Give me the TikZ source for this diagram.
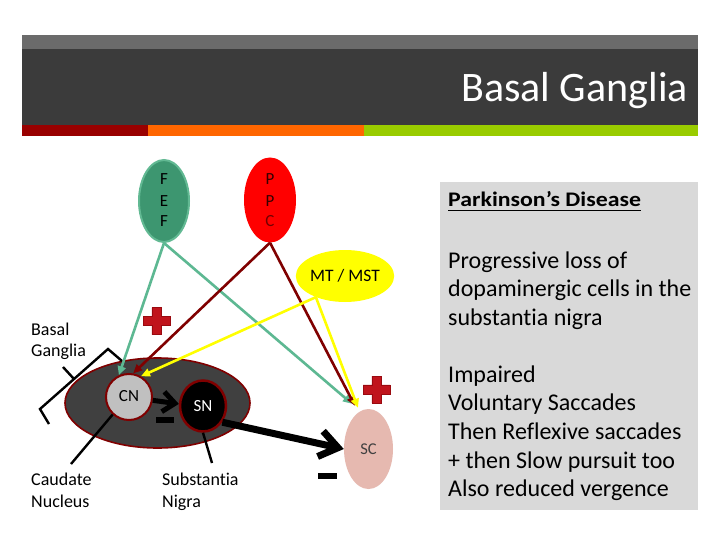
\documentclass[tikz,border=0pt]{standalone}
\usepackage{fontspec}
\setmainfont{Carlito}[Ligatures=NoCommon]
\newfontfamily\headfont[FakeStretch=1.15,Ligatures=NoCommon]{Carlito}
\usetikzlibrary{arrows.meta,shapes.geometric}
\definecolor{bargrey}{HTML}{6B6B6B}
\definecolor{bardark}{HTML}{3B3B3B}
\definecolor{stripred}{HTML}{990000}
\definecolor{stripor}{HTML}{FF6600}
\definecolor{stripgreen}{HTML}{99CC00}
\definecolor{fefgreen}{HTML}{3D9670}
\definecolor{fefedge}{HTML}{62B993}
\definecolor{ppcred}{HTML}{FF0000}
\definecolor{mtyellow}{HTML}{FFFF00}
\definecolor{bgdark}{HTML}{404040}
\definecolor{edgered}{HTML}{800000}
\definecolor{cngrey}{HTML}{C0C0C0}
\definecolor{scpink}{HTML}{E6B9B0}
\definecolor{boxgrey}{HTML}{D9D9D9}
\definecolor{tealline}{HTML}{5DB892}
\definecolor{darkline}{HTML}{800000}
\definecolor{plusred}{HTML}{C0141C}
\definecolor{plusdark}{HTML}{9A0A10}
\definecolor{sctext}{HTML}{404040}
\tikzset{
  txt/.style={inner sep=0pt, anchor=base west},
  bodytxt/.style={txt, font=\fontsize{24}{28.7}\selectfont},
  smalltxt/.style={txt, font=\fontsize{18}{21}\selectfont},
  letter/.style={inner sep=0pt, anchor=base, font=\fontsize{17}{18}\selectfont},
  conn/.style={line width=2.6pt, -{Triangle[length=9pt,width=8pt]}},
  tealconn/.style={conn, draw=tealline},
  redconn/.style={conn, draw=darkline},
  yelconn/.style={conn, draw=mtyellow},
  pointer/.style={line width=2.4pt, draw=black},
  plussign/.pic={
    \fill[plusred, draw=plusdark, line width=0.8pt]
      (-4.6,-13.5) -- (4.6,-13.5) -- (4.6,-4.6) -- (13.5,-4.6) -- (13.5,4.6)
      -- (4.6,4.6) -- (4.6,13.5) -- (-4.6,13.5) -- (-4.6,4.6) -- (-13.5,4.6)
      -- (-13.5,-4.6) -- (-4.6,-4.6) -- cycle;
  }
}
\begin{document}
\begin{tikzpicture}[x=1pt,y=-1pt]
\useasboundingbox (0,0) rectangle (720,540);
\fill[white] (0,0) rectangle (720,540);
% header
\fill[bargrey] (22,35) rectangle (698,49);
\fill[bardark] (22,49) rectangle (698,125);
\fill[stripred] (22,125) rectangle (148,136);
\fill[stripor] (148,125) rectangle (364,136);
\fill[stripgreen] (364,125) rectangle (698,136);
\node[inner sep=0pt, anchor=base east, text=white, font=\fontsize{42}{50}\selectfont] (title) at (688,102) {Basal Ganglia};
% right box
\fill[boxgrey] (440,182) rectangle (698,510);
\node[txt, font=\headfont\bfseries\fontsize{20.7}{25}\selectfont] (head) at (448,206.7) {Parkinson’s Disease};
\draw[line width=1.3pt] ([yshift=-3.6pt]head.base west) -- ([yshift=-3.6pt]head.base east);
\node[bodytxt] (b1) at (448,268) {Progressive loss of};
\node[bodytxt] (b2) at (448,296.7) {dopaminergic cells in the};
\node[bodytxt] (b3) at (448,325.4) {substantia nigra};
\node[bodytxt] (b4) at (448,382) {Impaired};
\node[bodytxt] (b5) at (448,410.7) {Voluntary Saccades};
\node[bodytxt] (b6) at (448,439.4) {Then Reflexive saccades};
\node[bodytxt] (b7) at (448,468) {+ then Slow pursuit too};
\node[bodytxt] (b8) at (448,496.8) {Also reduced vergence};
% cortical areas
\node[ellipse, fill=fefgreen, draw=fefedge, line width=2pt, minimum width=50pt, minimum height=82pt, inner sep=0pt] (FEF) at (164,201) {};
\node[letter] (fef1) at (164,185) {F};
\node[letter] (fef2) at (164,206.7) {E};
\node[letter] (fef3) at (164,226.7) {F};
\node[ellipse, fill=ppcred, minimum width=52pt, minimum height=85pt, inner sep=0pt] (PPC) at (270,200) {};
\node[letter, text=black!80!red] (ppc1) at (270,185) {P};
\node[letter, text=black!80!red] (ppc2) at (270,206.7) {P};
\node[letter, text=black!55!red] (ppc3) at (270,226.7) {C};
\node[ellipse, fill=mtyellow, minimum width=84pt, minimum height=52pt, inner sep=0pt, font=\fontsize{17.5}{20}\selectfont] (MT) at (345,276) {MT / MST};
% basal ganglia
\node[ellipse, fill=bgdark, draw=edgered, line width=1.6pt, minimum width=185pt, minimum height=90pt, inner sep=0pt] (BG) at (157.5,403) {};
\node[circle, fill=cngrey, draw=edgered, line width=2pt, minimum size=46pt, inner sep=0pt, font=\fontsize{17}{19}\selectfont] (CN) at (129,397) {\raisebox{2pt}{CN}};
\node[ellipse, fill=black, draw=edgered, line width=2.5pt, minimum width=46pt, minimum height=51pt, inner sep=0pt, text=white, font=\fontsize{17}{19}\selectfont] (SN) at (203,406) {SN};
\node[ellipse, fill=scpink, minimum width=49pt, minimum height=80pt, inner sep=0pt, text=sctext, font=\fontsize{16.5}{19}\selectfont] (SC) at (368.5,449) {SC};
% labels
\node[smalltxt] (bgl1) at (31,335) {Basal};
\node[smalltxt] (bgl2) at (31,356) {Ganglia};
\node[smalltxt] (cnl1) at (31,485) {Caudate};
\node[smalltxt] (cnl2) at (31,507) {Nucleus};
\node[smalltxt] (snl1) at (162,485) {Substantia};
\node[smalltxt] (snl2) at (162,507) {Nigra};
% bracket
\draw[pointer, line join=miter] (49,424) -- (40,409) -- (108,349) -- (122,361);
\draw[pointer] (74,379) -- (63,367);
% pointers
\coordinate (cnend) at (71,464);
\coordinate (snend) at (212,463);
\draw[pointer] (CN.227) -- (cnend);
\draw[pointer] (SN.south) -- (snend);
% connectors
\draw[tealconn] (FEF.south) -- (CN.115);
\draw[tealconn] (FEF.south) -- ([xshift=-16.5pt,yshift=5pt]SC.north);
\draw[redconn] (PPC.south) -- (CN.80);
\draw[redconn] (PPC.south) -- ([xshift=-13.5pt,yshift=3pt]SC.north);
\draw[yelconn] (MT.216) -- (CN.60);
\draw[yelconn] (MT.216) -- ([xshift=-10.5pt,yshift=1pt]SC.north);
\draw[line width=5pt, -{Straight Barb[length=12pt,width=20pt]}] (CN.-8) -- (SN.175);
\draw[line width=7pt, -{Straight Barb[length=18pt,width=26pt]}] (SN.-40) -- (SC.west);
% signs
\fill[black] (156,417) rectangle (174,422.5);
\fill[black] (318,473) rectangle (337,479);
\pic at (156.5,321) {plussign};
\pic at (376.5,389.5) {plussign};
\end{tikzpicture}
\end{document}
